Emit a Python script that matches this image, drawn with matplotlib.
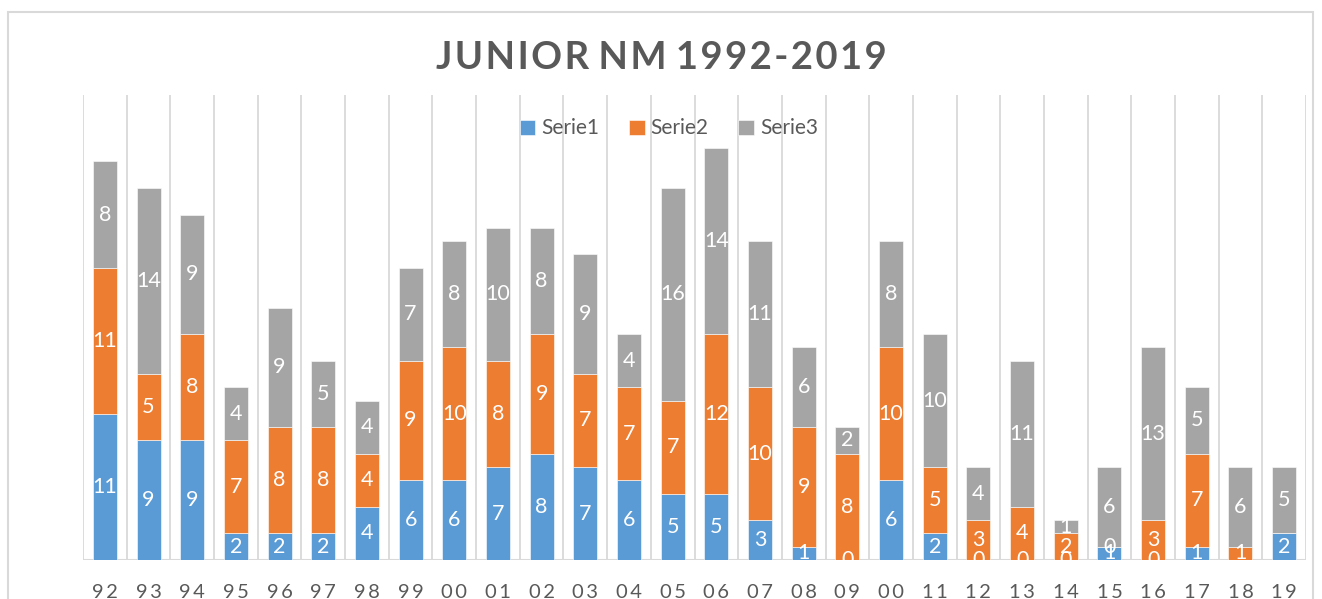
import numpy as np
import matplotlib
matplotlib.use("Agg")
import matplotlib.pyplot as plt
from matplotlib.patches import Rectangle

plt.rcParams['font.family'] = ['Lato', 'DejaVu Sans']

years = ["92", "93", "94", "95", "96", "97", "98", "99", "00", "01", "02", "03", "04", "05",
         "06", "07", "08", "09", "00", "11", "12", "13", "14", "15", "16", "17", "18", "19"]
serie1 = [11, 9, 9, 2, 2, 2, 4, 6, 6, 7, 8, 7, 6, 5,
          5, 3, 1, 0, 6, 2, 0, 0, 0, 1, 0, 1, None, 2]
serie2 = [11, 5, 8, 7, 8, 8, 4, 9, 10, 8, 9, 7, 7, 7,
          12, 10, 9, 8, 10, 5, 3, 4, 2, 0, 3, 7, 1, None]
serie3 = [8, 14, 9, 4, 9, 5, 4, 7, 8, 10, 8, 9, 4, 16,
          14, 11, 6, 2, 8, 10, 4, 11, 1, 6, 13, 5, 6, 5]

series = [("Serie1", serie1, "#5B9BD5"),
          ("Serie2", serie2, "#ED7D31"),
          ("Serie3", serie3, "#A5A5A5")]


def spaced(s, gap="\u200a"):
    # crude letter spacing, the original title/ticks are tracked out
    return gap.join(s)


fig = plt.figure(figsize=(13.22, 5.99), dpi=100)
fig.patches.append(Rectangle((8 / 1322, -0.1), 1305 / 1322, 1.1 - 12 / 599,
                             transform=fig.transFigure, fill=False,
                             edgecolor="#D9D9D9", linewidth=1.5))

ax = fig.add_axes([83 / 1322, 1 - 560 / 599, 1223 / 1322, 465 / 599])
x = np.arange(len(years))
bottom = np.zeros(len(years))
for name, vals, color in series:
    v = np.array([np.nan if a is None else a for a in vals], dtype=float)
    h = np.nan_to_num(v)
    ax.bar(x, h, 0.55, bottom=bottom, color=color, label=name,
           edgecolor="white", linewidth=0.4, zorder=2)
    for i in range(len(years)):
        if not np.isnan(v[i]):
            ax.text(x[i], bottom[i] + h[i] / 2, f"{int(v[i])}", ha="center", va="center",
                    color="white", fontsize=15.5, zorder=3, clip_on=True)
    bottom += h

ax.set_xlim(-0.5, len(years) - 0.5)
ax.set_ylim(0, 35)
for b in np.arange(-0.5, len(years), 1.0):
    ax.axvline(b, color="#D9D9D9", linewidth=1.3, zorder=1)
ax.axhline(0, color="#D9D9D9", linewidth=1.5, zorder=1)
for s in ax.spines.values():
    s.set_visible(False)
ax.set_yticks([])
ax.set_xticks(x)
ax.set_xticklabels([spaced(y, "\u2009") for y in years], fontsize=14.5, color="#595959")
ax.tick_params(axis="x", length=0, pad=17)

leg = ax.legend(loc="upper center", bbox_to_anchor=(0.479, 0.99), ncol=3, frameon=False,
                fontsize=15, handlelength=0.75, handleheight=0.75, handletextpad=0.3,
                columnspacing=1.4)
for t in leg.get_texts():
    t.set_color("#595959")

fig.text(0.5, 1 - 58 / 599, " ".join(spaced(w) for w in "JUNIOR NM 1992-2019".split(" ")),
         ha="center", va="center", fontsize=27.5, fontweight="bold", color="#595959")

fig.savefig("out.png", dpi=100)
